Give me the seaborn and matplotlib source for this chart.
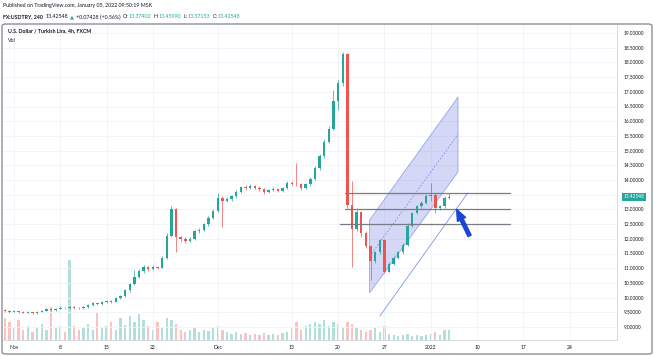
import numpy as np
import pandas as pd
import seaborn as sns
import matplotlib.pyplot as plt
from matplotlib.patches import FancyBboxPatch, Polygon

sns.set_theme(style="white")
plt.rcParams['font.family'] = ['Lato', 'DejaVu Sans']

# ---- data (x = trading days from Nov 1, two bars per day) ----
first_day = -1.0
bar_step = 0.5
first_open = 9.57
closes = [9.55, 9.52, 9.54, 9.51, 9.49, 9.50, 9.47, 9.52, 9.56, 9.60,
          9.58, 9.62, 9.66, 9.64, 9.67, 9.65, 9.63, 9.68, 9.74, 9.80,
          9.78, 9.84, 9.88, 9.86, 9.98, 10.05, 10.25, 10.45, 10.70, 10.90,
          11.05, 10.98, 11.05, 11.02, 11.35, 12.10, 13.00, 12.05, 11.98, 11.92,
          12.00, 12.25, 12.30, 12.50, 12.70, 12.95, 13.40, 13.30, 13.35, 13.45,
          13.60, 13.75, 13.72, 13.80, 13.74, 13.70, 13.58, 13.66, 13.70, 13.64,
          13.72, 13.90, 13.88, 13.85, 13.72, 13.85, 14.05, 14.40, 14.80, 15.30,
          15.75, 16.70, 17.30, 18.28, 13.15, 12.35, 12.90, 12.20, 11.75, 11.25,
          11.55, 11.95, 10.88, 11.15, 11.35, 11.55, 11.80, 12.45, 12.88, 13.10,
          13.22, 13.45, 13.50, 13.05, 13.10, 13.40, 13.43]
highs = [9.60, 9.57, 9.57, 9.56, 9.53, 9.53, 9.52, 9.55, 9.59, 9.64,
         9.63, 9.65, 9.70, 9.69, 9.71, 9.70, 9.68, 9.71, 9.77, 9.84,
         9.83, 9.87, 9.92, 9.91, 10.02, 10.10, 10.30, 10.50, 10.95, 10.96,
         11.10, 11.09, 11.10, 11.08, 11.40, 12.20, 13.10, 13.05, 12.10, 12.05,
         12.06, 12.30, 12.36, 12.55, 12.76, 13.00, 13.56, 13.45, 13.42, 13.50,
         13.66, 13.80, 13.82, 13.85, 13.84, 13.78, 13.74, 13.70, 13.76, 13.74,
         13.77, 13.95, 13.96, 14.58, 13.90, 13.90, 14.10, 14.48, 14.88, 15.40,
         15.85, 17.06, 17.40, 18.36, 18.32, 13.95, 13.05, 12.95, 12.25, 11.80,
         11.60, 11.99, 12.00, 11.20, 11.40, 11.60, 11.86, 12.55, 12.92, 13.16,
         13.28, 13.52, 13.90, 13.55, 13.16, 13.45, 13.56]
lows = [9.52, 9.49, 9.50, 9.48, 9.46, 9.46, 9.44, 9.45, 9.50, 9.54,
        9.55, 9.56, 9.60, 9.61, 9.62, 9.62, 9.60, 9.61, 9.66, 9.72,
        9.75, 9.76, 9.82, 9.83, 9.84, 9.95, 10.02, 10.20, 10.43, 10.66,
        10.85, 10.92, 10.95, 10.96, 11.00, 11.30, 12.05, 11.55, 11.90, 11.86,
        11.88, 11.96, 12.20, 12.26, 12.45, 12.66, 12.90, 12.40, 13.25, 13.30,
        13.40, 13.55, 13.66, 13.68, 13.68, 13.64, 13.52, 13.55, 13.62, 13.60,
        13.60, 13.68, 13.82, 13.80, 13.66, 13.68, 13.80, 14.00, 14.35, 14.75,
        15.25, 15.70, 16.38, 17.20, 13.05, 11.05, 12.28, 12.05, 11.70, 10.60,
        11.18, 11.50, 10.84, 10.86, 11.10, 11.30, 11.50, 11.76, 12.40, 12.84,
        13.05, 13.18, 13.30, 12.88, 12.98, 13.06, 13.37]
volumes = [22, 18, 12, 20, 10, 14, 8, 12, 16, 10,
           33, 12, 14, 8, 80, 14, 10, 12, 16, 10,
           27, 12, 14, 18, 10, 22, 15, 24, 18, 26,
           20, 14, 10, 18, 12, 22, 20, 16, 10, 8,
           10, 12, 8, 10, 9, 12, 14, 10, 8, 6,
           8, 6, 7, 5, 6, 5, 7, 5, 6, 5,
           7, 8, 12, 18, 10, 14, 16, 18, 16, 20,
           14, 18, 16, 12, 18, 16, 12, 10, 8, 10,
           12, 8, 14, 6, 5, 4, 5, 6, 4, 5,
           4, 5, 6, 8, 5, 10, 10]

tick_days = [0, 5, 10, 15, 22, 30, 35, 40, 45, 50, 55, 60]
tick_labels = ["Nov", "8", "15", "22", "Dec", "13", "20", "27", "2022", "10", "17", "24"]
price_ticks = [9.0, 9.5, 10.0, 10.5, 11.0, 11.5, 12.0, 12.5, 13.0, 13.5, 14.0,
               14.5, 15.0, 15.5, 16.0, 16.5, 17.0, 17.5, 18.0, 18.5, 19.0]
hidden_price_label = 13.5   # covered by the last-price badge

channel_days = [38.4, 38.4, 47.95, 47.95]
channel_prices = [10.16, 12.64, 16.82, 14.27]
mid_days = [38.4, 47.95]
mid_prices = [11.40, 15.55]
lower_days = [39.5, 49.0]
lower_prices = [9.37, 13.56]
level_prices = [13.56, 13.00, 12.52]
level_starts = [35.7, 35.7, 35.2]
level_end = 53.6
arrow_tail = (49.2, 12.10)
arrow_tip = (47.8, 13.00)
last_price = 13.42548

UP, DOWN = "#26a69a", "#ef5350"
DARK = "#131722"

df = pd.DataFrame({
    "day": first_day + bar_step * np.arange(len(closes)),
    "close": closes, "high": highs, "low": lows, "volume": volumes,
})
df["open"] = [first_open] + closes[:-1]
df["dir"] = np.where(df["close"] >= df["open"], "up", "down")

# ---- figure in pixel units ----
W, H = 654, 356
fig = plt.figure(figsize=(W / 100, H / 100), dpi=100)
fx = lambda px: px / W
fy = lambda py: 1 - py / H
ax_l, ax_r, ax_t, ax_b = 3, 617, 25, 340
rect = [fx(ax_l), fy(ax_b), fx(ax_r - ax_l), (ax_b - ax_t) / H]

# volume pane underneath
axv = fig.add_axes(rect)
sns.barplot(data=df, x="day", y="volume", hue="dir", palette={"up": UP, "down": DOWN},
            native_scale=True, dodge=False, width=0.5, alpha=0.35, saturation=1,
            errorbar=None, legend=False, linewidth=0, ax=axv)
axv.set_ylim(0, ax_b - ax_t)
axv.axis("off")

ax = fig.add_axes(rect, sharex=axv)
ax.patch.set_alpha(0)

# candles
colors = [UP if d == "up" else DOWN for d in df["dir"]]
ax.vlines(df["day"], df["low"], df["high"], colors=colors, lw=0.5, zorder=3)
body = (df["close"] - df["open"]).abs().clip(lower=0.015)
ax.bar(df["day"], body, bottom=df[["open", "close"]].min(axis=1), width=0.26,
       color=colors, linewidth=0, zorder=4)

# parallel channel
ax.add_patch(Polygon(list(zip(channel_days, channel_prices)), closed=True,
                     fc="#3f51d8", alpha=0.22, ec="none", zorder=2))
ax.add_patch(Polygon(list(zip(channel_days, channel_prices)), closed=True,
                     fill=False, ec="#3050e0", alpha=0.45, lw=0.6, zorder=2))
ax.plot(mid_days, mid_prices, color="#3050e0", alpha=0.55, lw=0.6, dashes=(2, 2), zorder=2)
ax.plot(lower_days, lower_prices, color="#8fa3ee", lw=0.7, zorder=2)

# horizontal levels
for p, s in zip(level_prices, level_starts):
    ax.plot([s, level_end], [p, p], color="#787b86", lw=0.9, zorder=5)

# arrow
ax.annotate("", xy=arrow_tip, xytext=arrow_tail,
            arrowprops=dict(arrowstyle="simple,head_length=0.8,head_width=0.65,tail_width=0.25",
                            color="#1c45d6", mutation_scale=10, shrinkA=0, shrinkB=0), zorder=6)

# axes
ax.set_xlim((ax_l - 14) / 9.26, (ax_r - 14) / 9.26)
ax.set_ylim(19 - (ax_b - 33) / 29.4, 19 + (33 - ax_t) / 29.4)
ax.set_xticks(tick_days, tick_labels)
ax.set_yticks(price_ticks, ["" if p == hidden_price_label else f"{p:.5f}" for p in price_ticks])
ax.yaxis.tick_right()
ax.tick_params(axis="y", length=0, pad=4.5, labelsize=3.4, colors=DARK)
ax.tick_params(axis="x", length=0, pad=3.5, labelsize=3.6, colors=DARK)
ax.grid(True, color="#f0f3fa", lw=0.6, zorder=0)
for side in ["top", "left"]:
    ax.spines[side].set_visible(False)
for side in ["right", "bottom"]:
    ax.spines[side].set_color("#d1d4dc")
    ax.spines[side].set_linewidth(0.6)

# last price badge
ax.annotate(f"{last_price:.5f}", xy=(1.0, last_price), xycoords=("axes fraction", "data"),
            xytext=(4.5, 0), textcoords="offset points", va="center", ha="left",
            fontsize=3.4, color="white", annotation_clip=False,
            bbox=dict(boxstyle="square,pad=0.35", fc=UP, ec="none"))

# outer frame
fig.patches.append(FancyBboxPatch((fx(2), fy(354)), fx(650), (354 - 24) / H,
                                  boxstyle="round,pad=0,rounding_size=0.006",
                                  transform=fig.transFigure, fill=False,
                                  ec="#8c8f99", lw=1.0))

# header texts
renderer = fig.canvas.get_renderer()


def put_row(x_px, y_px, pieces, size):
    x = x_px
    for s, color, weight, gap in pieces:
        t = fig.text(fx(x), fy(y_px), s, color=color, fontsize=size,
                     fontweight=weight, va="center", ha="left")
        x += t.get_window_extent(renderer).width + gap


fig.text(fx(3), fy(6), "Published on TradingView.com, January 05, 2022 09:50:19 MSK",
         fontsize=3.8, color=DARK, va="center")
put_row(3, 17, [
    ("FX:USDTRY, 240", DARK, "bold", 2.5),
    ("13.42548", DARK, "normal", 2),
    ("▲", UP, "normal", 2),
    ("+0.07428 (+0.56%)", DARK, "normal", 2),
    ("O:", DARK, "normal", 0.3), ("13.37402", UP, "normal", 2),
    ("H:", DARK, "normal", 0.3), ("13.45990", UP, "normal", 2),
    ("L:", DARK, "normal", 0.3), ("13.37153", UP, "normal", 2),
    ("C:", DARK, "normal", 0.3), ("13.42548", UP, "normal", 0),
], 3.8)
fig.text(fx(8), fy(31), "U.S. Dollar / Turkish Lira, 4h, FXCM", fontsize=3.8,
         fontweight="bold", color=DARK, va="center")
fig.text(fx(8), fy(40), "Vol", fontsize=3.8, color=DARK, va="center")

fig.savefig("out.png", dpi=100)
